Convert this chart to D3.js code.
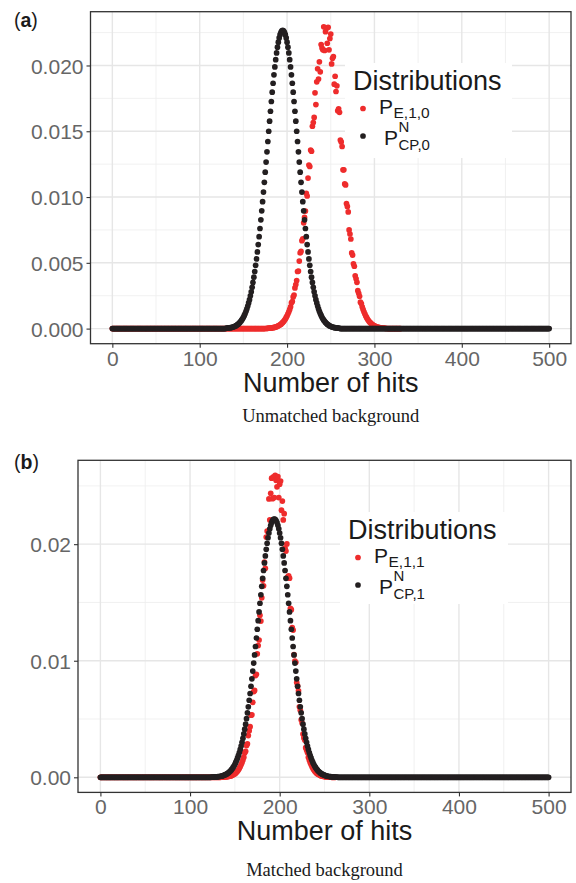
<!DOCTYPE html>
<html>
<head>
<meta charset="utf-8">
<script src="https://cdn.jsdelivr.net/npm/d3@7"></script>
<style>
  body { margin: 0; background: #fff; }
  svg { display: block; }
  .tick text { font-family: "Liberation Sans", Arial, sans-serif; font-size: 21px; fill: #666; }
  .tick line { stroke: #333; stroke-width: 1.1; }
</style>
</head>
<body>
<svg id="chart" width="576" height="883"></svg>
<script>
'use strict';

// probabilities are stored in units of 1e-5, starting at the given hit count;
// every hit count outside a listed window sits on 0
const SCALE = 1e-5;
const hitsMax = 500;
const xTicks = [0, 100, 200, 300, 400, 500];
const yTicksA = [0, 0.005, 0.010, 0.015, 0.020];
const yTicksB = [0, 0.01, 0.02];
const legendTitle = 'Distributions';
const axisTitle = 'Number of hits';

// (a) unmatched background
const pE10Start = 175;
const pE10Last = 330;
const pE10 = [
  1, 1, 2, 2, 3, 3, 4, 5, 6, 7, 9, 10, 12, 15, 18, 21, 25, 29, 34, 40, 47, 54, 63, 73, 85, 97, 112, 128, 146, 166,
  196, 206, 241, 255, 309, 335, 365, 434, 438, 513, 575, 587, 668, 683, 804, 845, 893, 1029, 1008, 1144,
  1243, 1232, 1357, 1348, 1538, 1566, 1605, 1792, 1703, 1876, 1975, 1897, 2028, 1952, 2159, 2132, 2119, 2294, 2114, 2257,
  2282,
  2169, 2290, 2119, 2205, 2239, 2012, 2055, 2068, 1858, 1918, 1802, 1845, 1656, 1671, 1644, 1433, 1419, 1384, 1207, 1207,
  1100, 1092, 951, 929, 887, 750, 719, 681, 575, 559, 493, 474, 401, 379, 352, 288, 268, 246, 201, 190,
  166, 146, 128, 112, 97, 85, 73, 63, 54, 47, 40, 34, 29, 25, 21, 18, 15, 12, 10, 9, 7, 6, 5, 4, 3, 3, 2, 2, 1, 1
];
const pCP0Start = 130;
const pCP0 = [
  2, 3, 4, 5, 6, 7, 8, 10, 12, 14, 17, 20, 24, 29, 34, 40, 47, 55, 64, 74, 86, 100, 115, 131, 150, 171, 195, 220, 249, 280,
  314, 351, 391, 434, 481, 530, 583, 639, 699, 761, 827, 895, 965, 1038, 1112, 1189, 1266, 1344, 1422, 1500,
  1577, 1652, 1726, 1797, 1865, 1929, 1989, 2044, 2095, 2139, 2177, 2209, 2234, 2252, 2263,
  2267,
  2263, 2252, 2234, 2209, 2177, 2139, 2095, 2044, 1989, 1929, 1865, 1797, 1726, 1652, 1577, 1500, 1422, 1344, 1266, 1189,
  1112, 1038, 965, 895, 827, 761, 699, 639, 583, 530, 481, 434, 391, 351, 314, 280, 249, 220, 195, 171,
  150, 131, 115, 100, 86, 74, 64, 55, 47, 40, 34, 29, 24, 20, 17, 14, 12, 10, 8, 7, 6, 5, 4, 3, 2
];

// (b) matched background
const pE11Start = 135;
const pE11Last = 262;
const pE11 = [
  1, 1, 2, 2, 3, 4, 5, 6, 7, 9, 11, 14, 17, 21, 26, 31, 38, 46, 55, 65, 78, 92, 109, 127, 149, 173,
  211, 223, 272, 287, 358, 399, 434, 533, 536, 643, 735, 745, 873, 884, 1059, 1130, 1178, 1390, 1340, 1540,
  1692, 1643, 1846, 1793, 2061, 2112, 2110, 2388, 2208, 2436, 2566, 2390, 2577, 2400, 2590,
  2548,
  2492, 2579, 2400, 2515, 2542, 2292, 2370, 2208, 2262, 1966, 1941, 2002, 1720, 1728, 1708, 1450, 1438, 1285, 1263, 1052,
  997, 987, 813, 784, 742, 605, 575, 493, 465, 371, 338, 320, 254, 234, 213,
  173, 149, 127, 109, 92, 78, 65, 55, 46, 38, 31, 26, 21, 17, 14, 11, 9, 7, 6, 5, 4, 3, 2, 2, 1, 1
];
const pCP1Start = 124;
const pCP1 = [
  1, 1, 2, 2, 3, 3, 4, 5, 6, 7, 9, 10, 12, 15, 18, 21, 25, 29, 34, 40, 47, 54, 63, 73, 85, 97, 112, 128, 146, 166,
  188, 212, 239, 268, 300, 335, 372, 413, 456, 503, 553, 605, 661, 719, 781, 845, 911, 980, 1050, 1122,
  1195, 1270, 1344, 1419, 1493, 1566, 1638, 1707, 1774, 1839, 1899, 1956, 2008, 2055, 2096, 2132, 2162, 2185, 2202, 2213,
  2216,
  2213, 2202, 2185, 2162, 2132, 2096, 2055, 2008, 1956, 1899, 1839, 1774, 1707, 1638, 1566, 1493, 1419, 1344, 1270, 1195,
  1122, 1050, 980, 911, 845, 781, 719, 661, 605, 553, 503, 456, 413, 372, 335, 300, 268, 239, 212, 188,
  166, 146, 128, 112, 97, 85, 73, 63, 54, 47, 40, 34, 29, 25, 21, 18, 15, 12, 10, 9, 7, 6, 5, 4, 3, 3, 2, 2, 1, 1
];

const RED = '#ee2c2c';
const BLACK = '#231f20';
const SANS = '"Liberation Sans", Arial, sans-serif';
const SERIF = '"Liberation Serif", "Times New Roman", serif';
const DOT_R = 2.85;

function series(start, vals, last) {
  return d3.range(0, last + 1).map(h => ({
    h: h,
    p: (h >= start && h < start + vals.length) ? vals[h - start] * SCALE : 0
  }));
}

const panels = [
  {
    tag: 'a', caption: 'Unmatched background',
    left: 90.5, right: 571, top: 11.7, bottom: 343.7,
    tagY: 26.5, captionY: 421.5,
    yTicks: yTicksA, yFormat: d3.format('.3f'),
    legend: { x: 345, y: 63, w: 167, h: 95 },
    series: [
      { color: RED, data: series(pE10Start, pE10, pE10Last), sub: 'E,1,0', sup: null },
      { color: BLACK, data: series(pCP0Start, pCP0, hitsMax), sub: 'CP,0', sup: 'N' }
    ]
  },
  {
    tag: 'b', caption: 'Matched background',
    left: 78, right: 571, top: 460.3, bottom: 792.4,
    tagY: 468.5, captionY: 876,
    yTicks: yTicksB, yFormat: d3.format('.2f'),
    legend: { x: 340, y: 512, w: 168, h: 92 },
    series: [
      { color: RED, data: series(pE11Start, pE11, pE11Last), sub: 'E,1,1', sup: null },
      { color: BLACK, data: series(pCP1Start, pCP1, hitsMax), sub: 'CP,1', sup: 'N' }
    ]
  }
];

const svg = d3.select('#chart');

panels.forEach((pn, idx) => {
  const g = svg.append('g');

  const x = d3.scaleLinear()
    .domain([-0.05 * hitsMax, 1.05 * hitsMax])
    .range([pn.left, pn.right]);
  const yMax = d3.max(pn.series, s => d3.max(s.data, d => d.p));
  const y = d3.scaleLinear()
    .domain([-0.05 * yMax, 1.05 * yMax])
    .range([pn.bottom, pn.top]);

  // grid
  const xStep = xTicks[1] - xTicks[0];
  const xMinor = xTicks.slice(0, -1).map(t => t + xStep / 2);
  const yStep = pn.yTicks[1] - pn.yTicks[0];
  const yMinor = pn.yTicks.map(t => t + yStep / 2).filter(t => t < y.domain()[1]);

  const grid = g.append('g');
  grid.selectAll('line.xmin').data(xMinor).join('line')
    .attr('x1', d => x(d)).attr('x2', d => x(d))
    .attr('y1', pn.top).attr('y2', pn.bottom)
    .attr('stroke', '#ededed').attr('stroke-width', 0.8);
  grid.selectAll('line.ymin').data(yMinor).join('line')
    .attr('x1', pn.left).attr('x2', pn.right)
    .attr('y1', d => y(d)).attr('y2', d => y(d))
    .attr('stroke', '#ededed').attr('stroke-width', 0.8);
  grid.selectAll('line.xmaj').data(xTicks).join('line')
    .attr('x1', d => x(d)).attr('x2', d => x(d))
    .attr('y1', pn.top).attr('y2', pn.bottom)
    .attr('stroke', '#e6e6e6').attr('stroke-width', 1.4);
  grid.selectAll('line.ymaj').data(pn.yTicks).join('line')
    .attr('x1', pn.left).attr('x2', pn.right)
    .attr('y1', d => y(d)).attr('y2', d => y(d))
    .attr('stroke', '#e6e6e6').attr('stroke-width', 1.4);

  // points
  const clipId = 'clip-' + idx;
  g.append('clipPath').attr('id', clipId)
    .append('rect')
    .attr('x', pn.left).attr('y', pn.top)
    .attr('width', pn.right - pn.left).attr('height', pn.bottom - pn.top);
  const pts = g.append('g').attr('clip-path', `url(#${clipId})`);
  pn.series.forEach(s => {
    pts.append('g').selectAll('circle').data(s.data).join('circle')
      .attr('cx', d => x(d.h))
      .attr('cy', d => y(d.p))
      .attr('r', DOT_R)
      .attr('fill', s.color);
  });

  // legend
  const lg = pn.legend;
  const leg = g.append('g').attr('transform', `translate(${lg.x},${lg.y})`);
  leg.append('rect').attr('width', lg.w).attr('height', lg.h).attr('fill', '#fff');
  leg.append('text').attr('x', 8).attr('y', 27)
    .attr('font-family', SANS).attr('font-size', 27).attr('fill', '#1a1a1a')
    .text(legendTitle);
  pn.series.forEach((s, i) => {
    const cy = i === 0 ? 45.5 : 73;
    leg.append('circle').attr('cx', 18).attr('cy', cy).attr('r', DOT_R).attr('fill', s.color);
    const px = s.sup ? 39 : 34;
    const baseY = cy + (s.sup ? 9 : 5.5);
    // P with stacked super/subscript in one text element
    const t = leg.append('text').attr('x', px).attr('y', baseY)
      .attr('font-family', SANS).attr('fill', '#1a1a1a');
    t.append('tspan').attr('font-size', 21).text('P');
    if (s.sup) {
      t.append('tspan').attr('font-size', 15)
        .attr('x', px + 14.5).attr('dy', -13).text(s.sup);
      t.append('tspan').attr('font-size', 15)
        .attr('x', px + 14.5).attr('dy', 18).text(s.sub);
    } else {
      t.append('tspan').attr('font-size', 15.5)
        .attr('x', px + 14.5).attr('dy', 3.5).text(s.sub);
    }
  });

  // border
  g.append('rect')
    .attr('x', pn.left).attr('y', pn.top)
    .attr('width', pn.right - pn.left).attr('height', pn.bottom - pn.top)
    .attr('fill', 'none').attr('stroke', '#333').attr('stroke-width', 1.3);

  // axes
  const xAxis = g.append('g')
    .attr('transform', `translate(0,${pn.bottom})`)
    .call(d3.axisBottom(x).tickValues(xTicks).tickSize(4).tickPadding(3).tickFormat(d3.format('d')));
  xAxis.select('.domain').remove();

  const yAxis = g.append('g')
    .attr('transform', `translate(${pn.left},0)`)
    .call(d3.axisLeft(y).tickValues(pn.yTicks).tickSize(4).tickPadding(3).tickFormat(pn.yFormat));
  yAxis.select('.domain').remove();
  yAxis.selectAll('.tick text').attr('dy', '0.36em');

  // titles
  g.append('text')
    .attr('x', (pn.left + pn.right) / 2).attr('y', pn.bottom + 48)
    .attr('text-anchor', 'middle')
    .attr('font-family', SANS).attr('font-size', 27).attr('fill', '#1a1a1a')
    .text(axisTitle);

  g.append('text')
    .attr('x', (pn.left + pn.right) / 2).attr('y', pn.captionY)
    .attr('text-anchor', 'middle')
    .attr('font-family', SERIF).attr('font-size', 18.5).attr('fill', '#1a1a1a')
    .text(pn.caption);

  const tag = g.append('text')
    .attr('x', 14).attr('y', pn.tagY)
    .attr('font-family', SANS).attr('font-size', 19.5).attr('fill', '#1a1a1a');
  tag.append('tspan').text('(');
  tag.append('tspan').attr('font-weight', 'bold').text(pn.tag);
  tag.append('tspan').text(')');
});
</script>
</body>
</html>
